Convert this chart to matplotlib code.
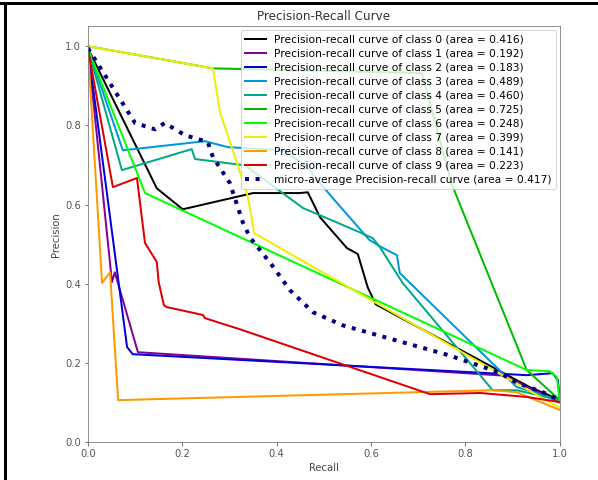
import numpy as np
import matplotlib
matplotlib.use("Agg")
import matplotlib.pyplot as plt
from matplotlib.lines import Line2D

# -------------------- data --------------------
class_areas = [0.416, 0.192, 0.183, 0.489, 0.460, 0.725, 0.248, 0.399, 0.141, 0.223]
micro_area = 0.417

recall_0 = [0.0, 0.146, 0.201, 0.350, 0.449, 0.466, 0.492, 0.549, 0.572, 0.593, 0.610, 0.936, 0.972, 1.0]
precision_0 = [0.995, 0.641, 0.588, 0.629, 0.629, 0.631, 0.568, 0.490, 0.475, 0.391, 0.348, 0.139, 0.121, 0.106]

recall_1 = [0.0, 0.051, 0.057, 0.106, 0.880, 1.0]
precision_1 = [0.995, 0.404, 0.429, 0.227, 0.168, 0.100]

recall_2 = [0.0, 0.083, 0.095, 0.930, 0.985, 0.996, 1.0]
precision_2 = [0.995, 0.240, 0.222, 0.169, 0.174, 0.157, 0.106]

recall_3 = [0.0, 0.074, 0.248, 0.297, 0.415, 0.460, 0.517, 0.597, 0.623, 0.655, 0.661, 0.909, 0.972, 1.0]
precision_3 = [0.995, 0.737, 0.760, 0.745, 0.737, 0.700, 0.619, 0.510, 0.492, 0.472, 0.427, 0.139, 0.116, 0.106]

recall_4 = [0.0, 0.072, 0.220, 0.227, 0.333, 0.456, 0.492, 0.576, 0.604, 0.619, 0.667, 0.858, 0.909, 1.0]
precision_4 = [0.995, 0.687, 0.740, 0.715, 0.699, 0.591, 0.573, 0.530, 0.515, 0.492, 0.402, 0.131, 0.131, 0.106]

recall_5 = [0.0, 0.265, 0.708, 0.771, 0.930, 1.0]
precision_5 = [1.0, 0.944, 0.932, 0.652, 0.182, 0.106]

recall_6 = [0.0, 0.121, 0.930, 0.979, 0.994, 1.0]
precision_6 = [0.995, 0.629, 0.182, 0.179, 0.164, 0.106]

recall_7 = [0.0, 0.265, 0.280, 0.307, 0.337, 0.347, 0.352, 1.0]
precision_7 = [1.0, 0.944, 0.833, 0.737, 0.629, 0.568, 0.528, 0.086]

recall_8 = [0.0, 0.030, 0.047, 0.064, 0.858, 0.909, 1.0]
precision_8 = [0.995, 0.402, 0.429, 0.106, 0.131, 0.126, 0.081]

recall_9 = [0.0, 0.053, 0.104, 0.121, 0.146, 0.150, 0.161, 0.167, 0.244, 0.248, 0.322, 0.725, 0.831, 0.930, 1.0]
precision_9 = [0.995, 0.644, 0.667, 0.503, 0.455, 0.404, 0.346, 0.341, 0.321, 0.313, 0.285, 0.121, 0.124, 0.114, 0.101]

recall_micro = [0.0, 0.100, 0.142, 0.163, 0.206, 0.254, 0.265, 0.301, 0.328, 0.343, 0.390, 0.428,
                0.477, 0.540, 0.650, 0.763, 0.869, 0.911, 0.964, 1.0]
precision_micro = [0.995, 0.806, 0.790, 0.806, 0.775, 0.758, 0.720, 0.654, 0.556, 0.518, 0.447, 0.384,
                   0.328, 0.295, 0.258, 0.220, 0.177, 0.149, 0.126, 0.106]

recalls = [recall_0, recall_1, recall_2, recall_3, recall_4,
           recall_5, recall_6, recall_7, recall_8, recall_9]
precisions = [precision_0, precision_1, precision_2, precision_3, precision_4,
              precision_5, precision_6, precision_7, precision_8, precision_9]

# -------------------- plot --------------------
DPI = 72
fig = plt.figure(figsize=(598 / DPI, 480 / DPI), dpi=DPI)
ax = fig.add_axes([0.147, 0.079, 0.789, 0.866])

cmap = plt.cm.nipy_spectral
n_classes = len(class_areas)
for i in range(n_classes):
    ax.plot(recalls[i], precisions[i], lw=2, color=cmap(float(i) / n_classes),
            label="Precision-recall curve of class {0} (area = {1:0.3f})".format(i, class_areas[i]))

ax.plot(recall_micro, precision_micro, color="navy", linestyle=":", linewidth=4,
        label="micro-average Precision-recall curve (area = {0:0.3f})".format(micro_area))

ax.set_xlim([0.0, 1.0])
ax.set_ylim([0.0, 1.05])
ax.set_title("Precision-Recall Curve", fontsize=12, color="#333333")
ax.set_xlabel("Recall", fontsize=10, color="#444444")
ax.set_ylabel("Precision", fontsize=10, color="#444444")
ax.tick_params(labelsize=10, colors="#555555")
for sp in ax.spines.values():
    sp.set_color("#777777")
ax.legend(loc="upper right", fontsize=10.6, handlelength=2.0, labelspacing=0.38,
          handletextpad=0.75, borderaxespad=0.35)

# border of the surrounding table cell
fig.add_artist(Line2D([0, 1], [0.994, 0.994], transform=fig.transFigure, color="black", lw=3))
fig.add_artist(Line2D([0.009, 0.009], [0, 0.994], transform=fig.transFigure, color="black", lw=3))

fig.savefig("out.png", dpi=DPI)
